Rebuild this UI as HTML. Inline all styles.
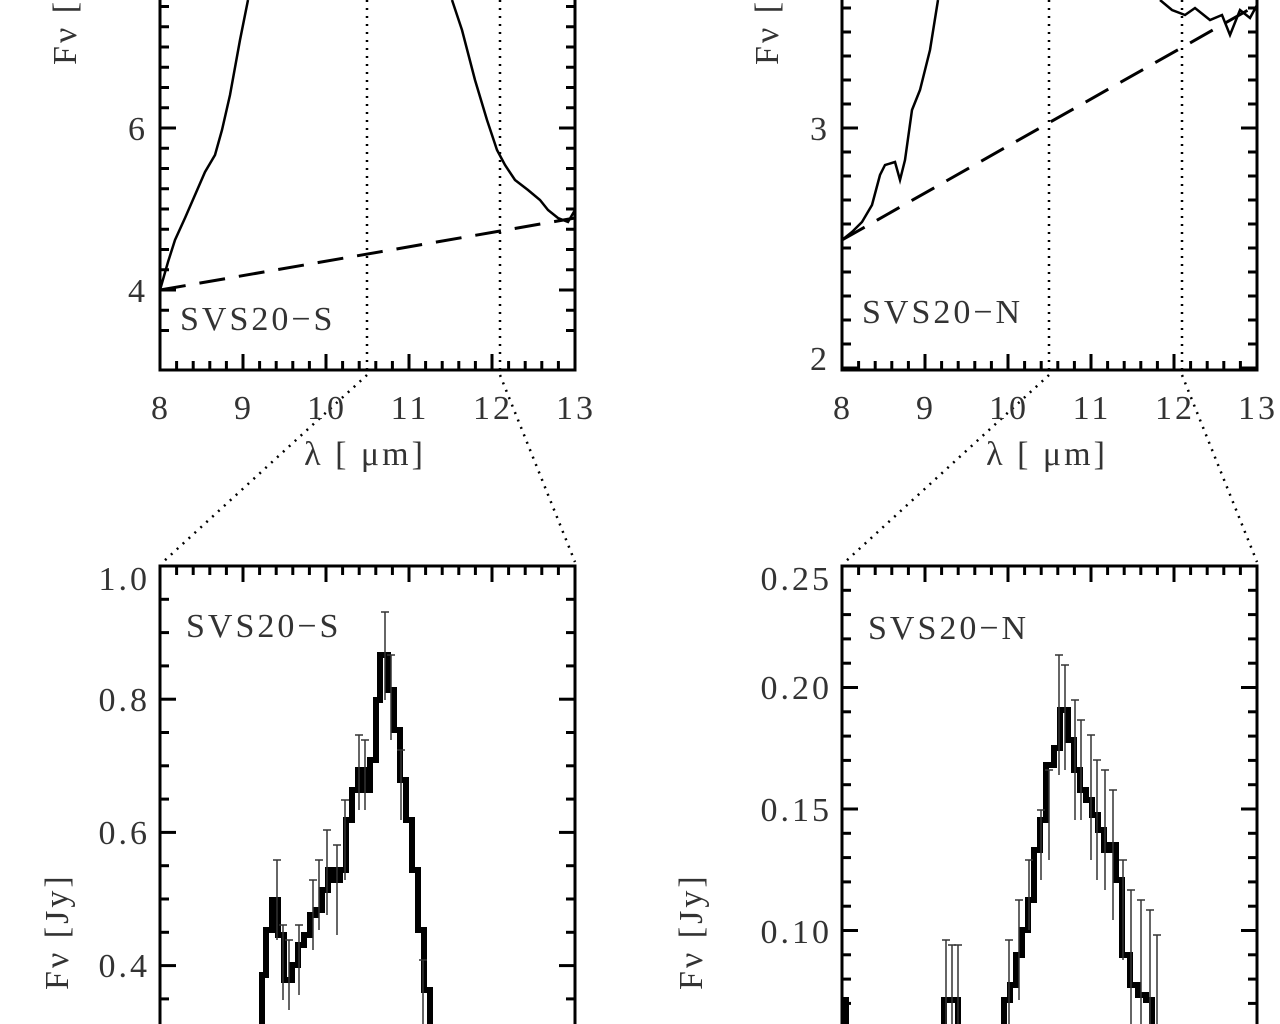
<!DOCTYPE html>
<html><head><meta charset="utf-8"><style>
html,body{margin:0;padding:0;background:#fff;width:1280px;height:1024px;overflow:hidden}
svg text{font-family:"Liberation Serif",serif;fill:#333;letter-spacing:3px}
</style></head><body>
<svg id="s" width="1280" height="1024" xmlns="http://www.w3.org/2000/svg">
<g fill="none" stroke="#000">
<path d="M160,0 V370 H575 V0" stroke-width="3"/>
<path d="M842,0 V370 H1257 V0" stroke-width="3"/>
<path d="M160,1024 V566 H575 V1024" stroke-width="3"/>
<path d="M842,1024 V566 H1257 V1024" stroke-width="3"/>
<g stroke-width="2.5" stroke-dasharray="2,6">
<path d="M367,0 V370 M500,0 V370 M367,375 L163,562 M500,375 L575,562"/>
<path d="M1049,0 V370 M1182,0 V370 M1049,375 L845,562 M1182,375 L1257,562"/>
</g>
<path d="M160,290 L575,218" stroke-width="3" stroke-dasharray="26,14"/>
<path d="M842,240 L1257,5" stroke-width="3" stroke-dasharray="26,14"/>
<path d="M160,290 L168,262 175,240 185,218 195,195 205,172 215,155 222,130 230,95 240,40 248,0" stroke-width="2.5"/>
<path d="M452,0 L462,30 475,80 487,120 497,150 505,165 515,180 528,190 540,200 548,210 558,218 568,222 575,210" stroke-width="2.5"/>
<path d="M842,240 L852,232 862,222 872,205 880,175 885,165 895,162 900,180 905,160 912,110 920,90 930,50 938,0" stroke-width="2.5"/>
<path d="M1160,0 L1172,10 1185,15 1195,8 1210,20 1222,15 1230,35 1240,10 1250,18 1257,5" stroke-width="2.5"/>
<path stroke-width="6" d="M262,1024 V975 H266 V930 H272 V900 H278 V935 H284 V980 H292 V965 H298 V945 H304 V935 H310 V915 H316 V910 H322 V890 H328 V870 H334 V880 H340 V870 H346 V820 H352 V790 H358 V770 H364 V790 H370 V760 H376 V700 H380 V655 H388 V690 H394 V730 H400 V780 H406 V820 H412 V870 H418 V930 H424 V990 H430 V1024"/>
<path stroke-width="6" d="M842,1000 H846 V1024 M944,1024 V1000 H952 V1000 H958 V1024 M1004,1024 V1000 H1010 V985 H1016 V955 H1022 V930 H1028 V900 H1034 V850 H1040 V820 H1046 V765 H1054 V748 H1060 V710 H1068 V740 H1074 V770 H1080 V790 H1086 V800 H1092 V815 H1098 V830 H1104 V850 H1110 V845 H1116 V880 H1122 V955 H1130 V985 H1138 V995 H1146 V1000 H1152 V1024"/>
<g id="eb" stroke-width="1.5" stroke="#333"></g>
</g>
<g id="tk" stroke="#000" stroke-width="3" fill="none"></g>
<g id="tx" font-size="34"></g>
</svg>
<script>
var tk=document.getElementById('tk'),tx=document.getElementById('tx'),eb=document.getElementById('eb');
function L(g,x1,y1,x2,y2){var p=document.createElementNS('http://www.w3.org/2000/svg','line');p.setAttribute('x1',x1);p.setAttribute('y1',y1);p.setAttribute('x2',x2);p.setAttribute('y2',y2);g.appendChild(p);}
function T(x,y,s,a,rot){var t=document.createElementNS('http://www.w3.org/2000/svg','text');t.setAttribute('x',x);t.setAttribute('y',y);t.setAttribute('text-anchor',a||'middle');if(rot)t.setAttribute('transform','rotate(-90 '+x+' '+y+')');t.textContent=s;tx.appendChild(t);}
function xt(x0,x1,yb,yt){for(var i=0;i<=25;i++){var x=x0+(x1-x0)*i/25,l=i%5==0?16:9;if(yb!==null)L(tk,x,yb,x,yb-l);if(yt!==null)L(tk,x,yt,x,yt+l);}}
function yt(xl,xr,ya,dy,n,maj,ymin,ymax){for(var i=-n;i<=n;i++){var y=ya+i*dy;if(y<ymin||y>ymax)continue;var m=((i%maj)+maj)%maj==0;var l=m?16:9;L(tk,xl,y,xl+l,y);L(tk,xr,y,xr-l,y);}}
xt(160,575,370,null);xt(842,1257,370,null);xt(160,575,null,566);xt(842,1257,null,566);
yt(160,575,128,20.25,10,8,0,368);
yt(842,1257,128,24,10,10,0,368);
yt(160,575,566,33.3,14,4,566,1024);
yt(842,1257,566,24.3,20,5,566,1024);
['8','9','10','11','12','13'].forEach(function(s,i){T(160+83*i+1,419,s);T(842+83*i+1,419,s);});
T(148,140,'6','end');T(148,302,'4','end');T(830,140,'3','end');T(830,370,'2','end');
T(365,465,'λ [ μm]');T(1047,465,'λ [ μm]');
T(180,330,'SVS20−S','start');T(862,323,'SVS20−N','start');
T(186,637,'SVS20−S','start');T(868,639,'SVS20−N','start');
T(150,590,'1.0','end');T(150,711,'0.8','end');T(150,844,'0.6','end');T(150,977,'0.4','end');
T(832,590,'0.25','end');T(832,699,'0.20','end');T(832,821,'0.15','end');T(832,943,'0.10','end');
T(76,65,'Fν [','start',1);T(778,65,'Fν [','start',1);
T(68,990,'Fν  [Jy]','start',1);T(702,990,'Fν  [Jy]','start',1);
var e=[[277,860,940],[283,925,1000],[289,940,1010],[299,925,995],[313,880,950],[319,860,930],[327,830,915],[337,845,935],[345,800,880],[359,735,810],[365,740,810],[385,612,700],[391,655,740],[401,750,820],[423,960,1024],
[946,940,1024],[952,945,1024],[958,945,1024],[1009,940,1024],[1019,900,1000],[1029,860,930],[1041,810,880],[1049,770,860],[1059,655,775],[1065,665,770],[1075,700,820],[1081,720,820],[1091,735,860],[1097,760,880],[1105,770,890],[1113,790,920],[1123,860,960],[1131,890,1024],[1141,900,1024],[1150,910,1024],[1157,935,1024]];
e.forEach(function(a){L(eb,a[0],a[1],a[0],a[2]);L(eb,a[0]-4,a[1],a[0]+4,a[1]);});
</script>
</body></html>
